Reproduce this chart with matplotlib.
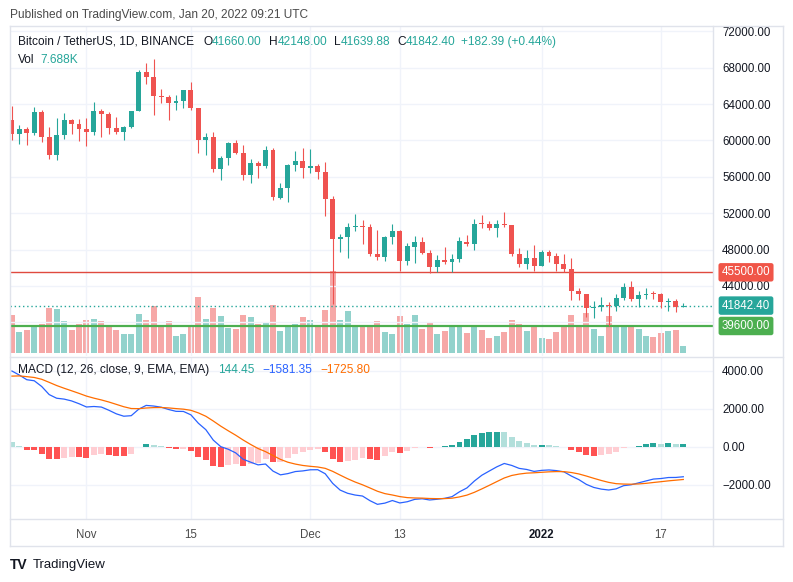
import numpy as np
import pandas as pd
import matplotlib
matplotlib.use("Agg")
import matplotlib.pyplot as plt
from matplotlib.lines import Line2D
from matplotlib.transforms import blended_transform_factory

plt.rcParams["font.family"] = ["Liberation Sans", "DejaVu Sans"]

W, H = 793, 582

# ---- data: BTC/USDT daily, 2021-10-22 .. 2022-01-20 ----
opens = [62193.15, 60688.23, 61286.75, 60852.22, 63078.78, 60328.81, 58413.44, 60575.90, 62253.70, 61859.19,
         61299.81, 60911.12, 63220.57, 62896.49, 61395.01, 60940.18, 61470.62, 63273.58, 67525.82, 66947.67,
         64882.42, 64774.25, 64122.22, 64380.01, 65519.11, 63606.73, 60058.88, 60344.86, 56891.62, 58057.10,
         59707.52, 58617.70, 56243.83, 57541.26, 57138.29, 58960.37, 53723.72, 54716.47, 57274.89, 57776.25,
         56950.56, 57184.07, 56484.26, 53601.05, 49152.46, 49396.32, 50441.91, 50588.95, 50471.19, 47535.90,
         47140.54, 49389.99, 50053.90, 46702.76, 48336.95, 48864.98, 47632.38, 46133.83, 46834.47, 46681.24,
         46914.17, 48887.59, 48588.17, 50838.82, 50819.99, 50399.67, 50775.48, 50701.44, 47543.74, 46464.66,
         47120.88, 46216.93, 47722.66, 47286.18, 46446.10, 45832.01, 43451.14, 43082.30, 41566.48, 41679.95,
         41864.62, 41822.49, 42729.29, 43902.65, 42558.35, 43059.96, 43084.29, 43071.66, 42201.63, 42352.12,
         41660.00]
highs = [63732.39, 61747.64, 61500.00, 63710.63, 63293.48, 61496.00, 62499.00, 62980.00, 62359.25, 62405.30,
         62437.74, 64270.00, 63500.00, 63086.31, 62595.72, 61560.49, 63286.35, 67789.00, 68524.25, 69000.00,
         65600.07, 65000.00, 64990.00, 65550.51, 66401.82, 63617.31, 60840.23, 60976.00, 58320.00, 59845.00,
         60029.76, 59444.00, 58009.99, 57735.00, 59398.90, 59150.00, 55280.00, 57445.05, 58865.97, 59176.99,
         59053.55, 57375.47, 57600.00, 53859.10, 49699.05, 50891.11, 51936.33, 51200.00, 50797.76, 50125.00,
         49485.71, 50777.00, 50189.97, 48700.41, 49500.00, 49436.43, 47995.96, 47392.37, 48300.01, 47537.57,
         49328.96, 49576.13, 51375.00, 51810.00, 51156.23, 51280.00, 52088.00, 50704.05, 48139.08, 47900.00,
         48548.26, 47954.63, 47990.00, 47570.00, 47557.54, 47070.00, 43816.00, 43145.83, 42300.00, 42786.70,
         42248.50, 43100.00, 44322.00, 44500.00, 43448.78, 43800.00, 43475.00, 43176.18, 42691.00, 42559.13,
         42148.00]
lows = [60000.00, 59562.15, 59510.63, 60650.00, 59817.55, 58000.00, 57820.00, 60174.81, 60673.00, 59945.36,
        59405.00, 60624.68, 60382.76, 60677.01, 60721.00, 60050.00, 61322.78, 63273.58, 66222.40, 62822.91,
        64100.00, 62278.00, 63360.22, 63576.27, 63400.00, 58574.07, 58373.00, 56474.26, 55600.00, 57353.00,
        58486.65, 55610.00, 55317.00, 55837.00, 57000.00, 53500.00, 53610.00, 53256.64, 56666.67, 55875.55,
        56458.01, 55777.77, 51680.00, 42000.30, 47727.21, 47100.00, 50039.74, 48600.00, 47320.00, 46852.00,
        46751.00, 48638.00, 45672.75, 46290.00, 46547.00, 47511.00, 45456.00, 45500.00, 46406.91, 45558.85,
        46630.00, 48421.87, 47920.42, 50384.43, 50142.32, 49412.00, 50449.00, 47313.01, 46096.99, 45900.00,
        45678.00, 46208.37, 46654.00, 45696.00, 45500.00, 42500.00, 42430.58, 40610.00, 40501.00, 41200.02,
        39650.00, 41268.93, 42450.00, 42311.22, 41725.95, 42555.00, 42581.79, 41540.42, 41250.00, 41138.56,
        41639.88]
closes = [60688.22, 61286.75, 60852.22, 63078.78, 60328.81, 58413.44, 60575.89, 62253.71, 61859.19, 61299.80,
          60911.11, 63219.99, 62896.48, 61395.01, 60937.12, 61470.61, 63273.59, 67525.83, 66947.66, 64882.43,
          64774.26, 64122.23, 64380.00, 65519.10, 63606.74, 60058.87, 60344.87, 56891.62, 58052.24, 59707.51,
          58622.02, 56247.18, 57541.27, 57138.29, 58960.36, 53726.53, 54721.03, 57274.88, 57776.25, 56950.56,
          57184.07, 56480.34, 53601.05, 49152.47, 49396.33, 50441.92, 50588.95, 50471.19, 47545.59, 47140.54,
          49389.99, 50053.90, 46702.75, 48343.28, 48864.98, 47632.38, 46131.20, 46834.48, 46681.23, 46914.16,
          48889.88, 48588.16, 50838.81, 50820.00, 50399.66, 50775.49, 50701.44, 47543.74, 46464.66, 47120.87,
          46216.93, 47722.65, 47286.18, 46446.10, 45832.01, 43451.13, 43082.31, 41566.48, 41679.96, 41864.62,
          41822.49, 42729.29, 43902.66, 42560.11, 43059.96, 43084.29, 43071.66, 42201.62, 42352.12, 41660.01,
          41842.40]
# volume, thousand BTC
volumes_k = [44.3, 24.5, 26.4, 31.5, 33.8, 52.1, 50.9, 36.9, 26.4, 33.8,
             38.4, 39.3, 36.9, 30.6, 26.4, 21.8, 21.8, 45.1, 38.4, 54.8,
             31.5, 36.9, 19.5, 21.8, 31.5, 65.2, 39.3, 52.1, 42.8, 28.8,
             27.6, 44.3, 41.9, 33.8, 36.1, 55.9, 25.6, 30.3, 33.8, 41.9,
             38.4, 32.6, 50.1, 95.5, 38.4, 48.9, 32.6, 32.6, 32.6, 37.3,
             24.5, 22.1, 43.1, 33.8, 44.3, 28.0, 36.1, 22.1, 25.6, 30.3,
             30.3, 23.3, 31.5, 26.8, 17.5, 19.8, 24.5, 38.4, 33.8, 25.6,
             30.3, 17.5, 16.3, 24.5, 30.3, 44.3, 32.6, 46.6, 28.0, 19.8,
             43.1, 31.5, 29.8, 31.5, 28.0, 19.8, 18.6, 23.3, 25.6, 26.8,
             7.688]
# closes 2021-09-01 .. 2021-10-21 (MACD warm-up, not drawn)
prior_closes = [48810.52, 49246.64, 49999.14, 49915.64, 51756.88, 52663.90, 46863.73, 46048.31, 46395.14, 44850.91,
                45173.69, 46025.24, 44940.73, 47111.52, 48121.41, 47737.82, 47299.98, 48292.74, 47241.75, 43015.62,
                40734.38, 43543.61, 44865.26, 42810.57, 42670.64, 43160.90, 42147.35, 41026.54, 41524.28, 43824.10,
                48141.61, 47634.90, 48200.01, 49224.94, 51471.99, 55315.00, 53785.22, 53951.43, 54949.72, 54659.00,
                57471.35, 55996.93, 57367.00, 57347.94, 61672.42, 60875.57, 61528.33, 62009.84, 64280.59, 66001.41,
                62193.15]

time_tick_pos = [10, 24, 40, 52, 71, 87]
time_tick_labels = ["Nov", "15", "Dec", "13", "2022", "17"]
price_ticks = [40000, 44000, 48000, 52000, 56000, 60000, 64000, 68000, 72000]
macd_ticks = [-2000, 0, 2000, 4000]
level_red = 45500.00
level_green = 39600.00
last_price = 41842.40

UP, DOWN = "#26a69a", "#ef5350"
GRID = "#f0f3fa"
FRAME = "#e0e3eb"
TXT = "#131722"

# ---- MACD (12, 26, 9) ----
s = pd.Series(prior_closes + closes)
macd_full = s.ewm(span=12, adjust=False).mean() - s.ewm(span=26, adjust=False).mean()
signal_full = macd_full.ewm(span=9, adjust=False).mean()
hist_full = macd_full - signal_full
n = len(closes)
macd = macd_full.values[-n:]
signal = signal_full.values[-n:]
hist = hist_full.values[-n:]
hist_prev = hist_full.values[-n - 1:-1]
hist_cols = []
for hv, hp in zip(hist, hist_prev):
    if hv >= 0:
        hist_cols.append("#26a69a" if hv > hp else "#b2dfdb")
    else:
        hist_cols.append("#ffcdd2" if hv > hp else "#ff5252")

fig = plt.figure(figsize=(W / 100, H / 100), dpi=100)
fig.patch.set_facecolor("white")


def rect(x0, y0, x1, y1):
    return [x0 / W, 1 - y1 / H, (x1 - x0) / W, (y1 - y0) / H]


def fline(x0, y0, x1, y1, color=FRAME, lw=1):
    fig.add_artist(Line2D([x0 / W, x1 / W], [1 - y0 / H, 1 - y1 / H],
                          transform=fig.transFigure, color=color, lw=lw))


XL, XR = 10, 713
xlim = (-0.25, 93.98)

# volume pane (under candles)
ax_vol = fig.add_axes(rect(XL, 26, XR, 356))
ax = fig.add_axes(rect(XL, 26, XR, 356), sharex=ax_vol)
ax.patch.set_alpha(0)
ax_macd = fig.add_axes(rect(XL, 357, XR, 519), sharex=ax_vol)

x = np.arange(n)
o, c, h, l = map(np.array, (opens, closes, highs, lows))
cols = np.where(c >= o, UP, DOWN)

ax_vol.bar(x, volumes_k, width=0.8, color=cols, alpha=0.5, linewidth=0)
ax_vol.set_ylim(-3.5, 382)
ax_vol.axis("off")

ax.vlines(x, l, h, colors=cols, lw=0.8, zorder=3)
ax.bar(x, np.maximum(np.abs(c - o), 110), bottom=np.minimum(o, c), width=0.66,
       color=cols, linewidth=0, zorder=4)
ax.set_xlim(*xlim)
ax.set_ylim(36300, 72580)
ax.set_yticks(price_ticks)
# 40000 label sits hidden behind the price boxes
ax.set_yticklabels(["" if v == 40000 else f"{v:.2f}" for v in price_ticks])
ax.yaxis.tick_right()
ax.tick_params(axis="y", length=0, pad=6.5, labelsize=8.3, labelcolor=TXT)
ax.tick_params(axis="x", length=0, labelbottom=False)
ax.set_xticks(time_tick_pos)
ax.grid(True, color=GRID, lw=1, zorder=0)
for sp in ax.spines.values():
    sp.set_visible(False)

ax.axhline(level_red, color="#e04a3f", lw=1, zorder=2)
ax.axhline(level_green, color="#4caf50", lw=1.6, zorder=2)
ax.axhline(last_price, color=UP, lw=1, ls=(0, (1, 2)), zorder=2)

tb = blended_transform_factory(ax.transAxes, ax.transData)
lx = (746 - XL) / (XR - XL)
for val, fc in [(level_red, "#f05548"), (last_price, UP), (level_green, "#4caf50")]:
    ax.text(lx, val, f"{val:.2f}", transform=tb, ha="center", va="center", fontsize=8.3,
            color="white", clip_on=False, zorder=10,
            bbox=dict(boxstyle="round,pad=0.28,rounding_size=0.2", fc=fc, ec="none"))

# MACD pane
ax_macd.bar(x, hist, width=0.8, color=hist_cols, linewidth=0, zorder=2)
ax_macd.plot(x, macd, color="#2962ff", lw=0.9, zorder=3)
ax_macd.plot(x, signal, color="#ff6d00", lw=0.9, zorder=3)
ax_macd.set_ylim(-3805, 4720)
ax_macd.set_yticks(macd_ticks)
ax_macd.set_yticklabels([f"{v:.2f}".replace("-", "\u2212") for v in macd_ticks])
ax_macd.yaxis.tick_right()
ax_macd.tick_params(axis="y", length=0, pad=6.5, labelsize=8.3, labelcolor=TXT)
ax_macd.set_xticks(time_tick_pos)
ax_macd.set_xticklabels(time_tick_labels)
ax_macd.tick_params(axis="x", length=0, pad=7, labelsize=8.3, labelcolor="#4a4a4a")
ax_macd.get_xticklabels()[4].set_color(TXT)
ax_macd.get_xticklabels()[4].set_fontweight("bold")
ax_macd.grid(True, color=GRID, lw=1, zorder=0)
ax_macd.set_axisbelow(True)
for sp in ax_macd.spines.values():
    sp.set_visible(False)

# frame
fline(XL, 26, 783, 26)
fline(XL, 546, 783, 546)
fline(XL, 26, XL, 546)
fline(783, 26, 783, 546)
fline(XR, 26, XR, 546)
fline(XL, 356.5, 783, 356.5)
fline(XL, 519, 783, 519)

# texts
renderer = fig.canvas.get_renderer()


def text_run(x_px, y_px, pieces, size):
    xp = x_px
    for txt, col, gap in pieces:
        t = fig.text(xp / W, 1 - y_px / H, txt, color=col, fontsize=size, ha="left", va="center")
        xp += t.get_window_extent(renderer=renderer).width + gap


fig.text(10 / W, 1 - 15 / H, "Published on TradingView.com, Jan 20, 2022 09:21 UTC",
         fontsize=8.6, color="#4a4a4a", ha="left", va="center")
text_run(18, 42, [("Bitcoin / TetherUS, 1D, BINANCE", TXT, 9),
                  ("O", TXT, 0), ("41660.00", UP, 7),
                  ("H", TXT, 0), ("42148.00", UP, 7),
                  ("L", TXT, 0), ("41639.88", UP, 7),
                  ("C", TXT, 0), ("41842.40", UP, 5),
                  ("+182.39 (+0.44%)", UP, 0)], 8.6)
text_run(18, 60, [("Vol", TXT, 6), ("7.688K", UP, 0)], 8.6)
text_run(18, 370, [("MACD (12, 26, close, 9, EMA, EMA)", TXT, 9),
                   ("144.45", UP, 8), ("\u22121581.35", "#2962ff", 8),
                   ("\u22121725.80", "#ff6d00", 0)], 8.6)

fig.text(10 / W, 1 - 565 / H, "TV", fontsize=10, fontweight="heavy", color=TXT, ha="left", va="center")
fig.text(33 / W, 1 - 565 / H, "TradingView", fontsize=9.5, color=TXT, ha="left", va="center")

fig.savefig("out.png", dpi=100, facecolor="white")
